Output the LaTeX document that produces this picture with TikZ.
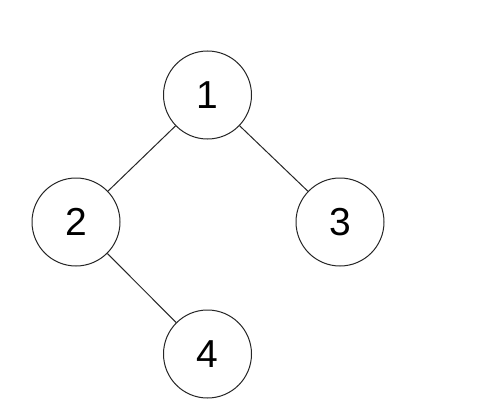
\documentclass[tikz,border=0pt]{standalone}
\usepackage{fontspec}
\setmainfont{Liberation Sans}
\begin{document}
\begin{tikzpicture}[x=1pt,y=-1pt,
  vertex/.style={circle,draw=black!85,line width=1pt,minimum size=88pt,inner sep=0pt,
    font=\fontsize{39}{46}\selectfont},
  edge/.style={draw=black!85,line width=1pt}]
\useasboundingbox[fill=white] (0,0) rectangle (478,409);
\node[vertex] (n1) at (207.5,95) {1};
\node[vertex] (n2) at (76,222) {2};
\node[vertex] (n3) at (340,222) {3};
\node[vertex] (n4) at (207.5,354) {4};
\draw[edge] (n1) -- (n2);
\draw[edge] (n1) -- (n3);
\draw[edge] (n2) -- (n4);
\end{tikzpicture}
\end{document}
